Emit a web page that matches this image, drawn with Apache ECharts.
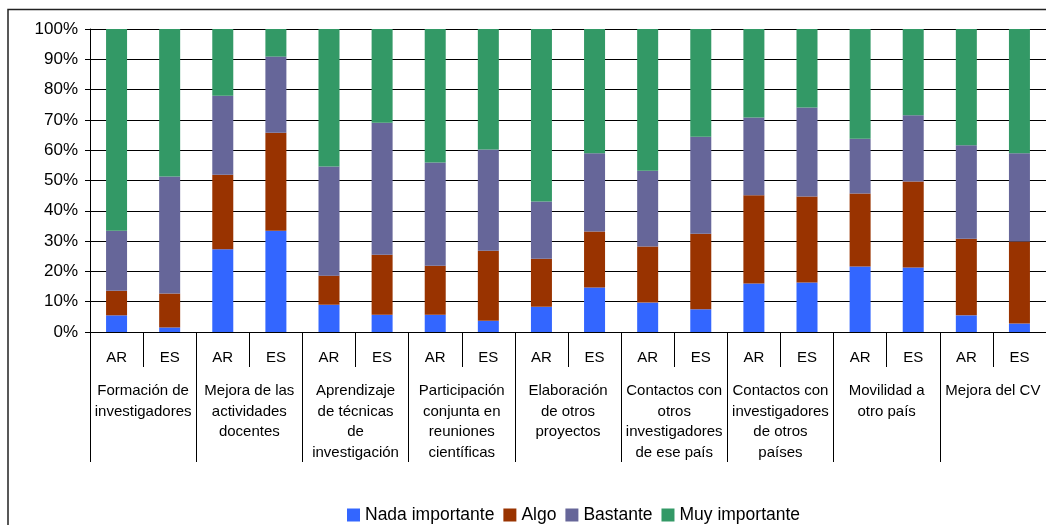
<!DOCTYPE html>
<html>
<head>
<meta charset="utf-8">
<script src="https://cdn.jsdelivr.net/npm/echarts@6/dist/echarts.min.js"></script>
<style>
html,body{margin:0;padding:0;background:#fff;}
#chart{width:1046px;height:525px;}
</style>
</head>
<body>
<div id="chart"></div>
<script>
var groups = [
  "Formación de\ninvestigadores",
  "Mejora de las\nactividades\ndocentes",
  "Aprendizaje\nde técnicas\nde\ninvestigación",
  "Participación\nconjunta en\nreuniones\ncientíficas",
  "Elaboración\nde otros\nproyectos",
  "Contactos con\notros\ninvestigadores\nde ese país",
  "Contactos con\ninvestigadores\nde otros\npaíses",
  "Movilidad a\notro país",
  "Mejora del CV"
];
var countries = ["AR", "ES"];
var seriesNames = ["Nada importante", "Algo", "Bastante", "Muy importante"];
var nada     = [5.5, 1.5, 27.3, 33.4, 9.0, 5.7, 5.7, 3.7, 8.3, 14.7, 9.7, 7.5, 16.0, 16.3, 21.6, 21.3, 5.5, 2.8];
var algo     = [8.1, 11.2, 24.6, 32.4, 9.6, 19.8, 16.2, 23.1, 15.9, 18.5, 18.5, 24.9, 29.1, 28.4, 24.1, 28.4, 25.3, 27.1];
var bastante = [19.8, 38.6, 26.1, 25.1, 36.0, 43.6, 34.0, 33.4, 18.9, 25.8, 25.0, 32.0, 25.7, 29.4, 18.1, 21.8, 30.8, 29.1];
var muy      = [66.6, 48.7, 22.0, 9.1, 45.4, 30.9, 44.1, 39.8, 56.9, 41.0, 46.8, 35.6, 29.2, 25.9, 36.2, 28.5, 38.4, 41.0];
var colors = ["#3366FF", "#993300", "#666699", "#339966"];

var subCats = [];
groups.forEach(function () { countries.forEach(function (c) { subCats.push(c); }); });
var values = [nada, algo, bastante, muy];

var chart = echarts.init(document.getElementById('chart'));
var font = 'Liberation Sans, Arial, sans-serif';
chart.setOption({
  animation: false,
  textStyle: { fontFamily: font },
  graphic: [{
    type: 'rect',
    shape: { x: 8, y: 9.5, width: 1100, height: 600 },
    style: { fill: 'none', stroke: '#222', lineWidth: 1.5 },
    silent: true, z: -1
  }],
  legend: {
    left: 342, top: 501,
    itemWidth: 13, itemHeight: 13, itemGap: 9,
    icon: 'rect',
    textStyle: { fontSize: 17.5, color: '#000', fontFamily: font },
    data: seriesNames
  },
  grid: { left: 90, top: 29, width: 958, bottom: 193, containLabel: false },
  xAxis: [{
    type: 'category',
    data: subCats,
    boundaryGap: true,
    axisLine: { show: true, lineStyle: { color: '#000', width: 1 } },
    axisTick: { show: true, interval: 0, alignWithLabel: false, length: 35, lineStyle: { color: '#000', width: 1 } },
    axisLabel: { interval: 0, margin: 18, fontSize: 15, color: '#000', fontFamily: font },
    splitLine: { show: false }
  }, {
    type: 'category',
    data: groups,
    position: 'bottom',
    boundaryGap: true,
    axisLine: { show: false },
    axisTick: { show: true, interval: 0, alignWithLabel: false, length: 130, lineStyle: { color: '#000', width: 1 } },
    axisLabel: { interval: 0, margin: 49, fontSize: 15, lineHeight: 20.5, color: '#000', fontFamily: font },
    splitLine: { show: false }
  }],
  yAxis: {
    type: 'value', min: 0, max: 100, interval: 10,
    axisLine: { show: true, lineStyle: { color: '#000' } },
    axisTick: { show: true, length: 5, lineStyle: { color: '#000' } },
    axisLabel: { formatter: '{value}%', fontSize: 17, color: '#000', margin: 12, padding: [2, 0, 0, 0], fontFamily: font },
    splitLine: { lineStyle: { color: '#000', width: 1 } }
  },
  series: seriesNames.map(function (n, i) {
    return {
      name: n, type: 'bar', stack: 'total', xAxisIndex: 0,
      barWidth: 21,
      itemStyle: { color: colors[i] },
      data: values[i]
    };
  })
});
</script>
</body>
</html>
